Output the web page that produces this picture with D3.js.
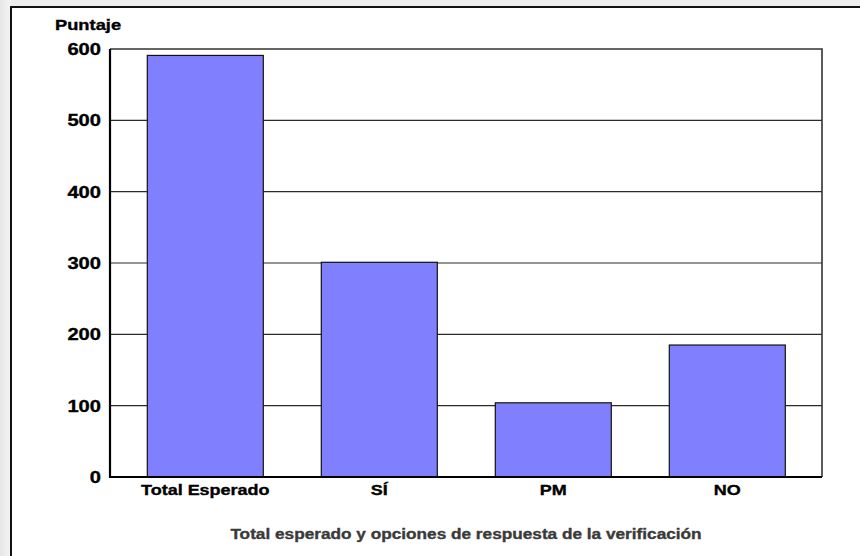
<!DOCTYPE html>
<html>
<head>
<meta charset="utf-8">
<script src="https://cdn.jsdelivr.net/npm/d3@7/dist/d3.min.js"></script>
<style>
  html, body { margin: 0; padding: 0; background: #fff; }
  svg { display: block; }
  text { font-family: "Liberation Sans", Arial, Helvetica, sans-serif; font-weight: bold; }
</style>
</head>
<body>
<script>
// Categories and scores
const categories = ["Total Esperado", "SÍ", "PM", "NO"];
const values = [591, 301, 104, 185];
const yTicks = [0, 100, 200, 300, 400, 500, 600];
const yTitle = "Puntaje";
const xTitle = "Total esperado y opciones de respuesta de la verificación";

const W = 860, H = 556;
const plot = { left: 110, right: 822, top: 49, bottom: 477 };
const stretch = 1.22; // fonts are drawn horizontally widened

const svg = d3.select("body").append("svg").attr("width", W).attr("height", H);

// light gray margin outside the frame
const grad = svg.append("defs").append("linearGradient").attr("id", "shade")
  .attr("x1", 0).attr("x2", 1).attr("y1", 0).attr("y2", 0);
grad.append("stop").attr("offset", "0%").attr("stop-color", "#e6e6e6");
grad.append("stop").attr("offset", "100%").attr("stop-color", "#f4f4f4");
svg.append("rect").attr("x", 0).attr("y", 0).attr("width", W).attr("height", 7).attr("fill", "#eeeeee");
svg.append("rect").attr("x", 0).attr("y", 0).attr("width", 11).attr("height", H).attr("fill", "url(#shade)");
svg.append("rect").attr("x", 11).attr("y", 7).attr("width", W + 10).attr("height", H + 10)
  .attr("fill", "#fff").attr("stroke", "#111").attr("stroke-width", 2);

const x = d3.scaleBand().domain(categories).range([118.3, 814.3])
  .paddingInner(1 / 3).paddingOuter(1 / 6);
const y = d3.scaleLinear().domain([0, 600]).range([plot.bottom, plot.top]);

// grid lines
svg.append("g").selectAll("line").data(yTicks.filter(d => d > 0 && d < 600)).join("line")
  .attr("x1", plot.left).attr("x2", plot.right)
  .attr("y1", d => y(d)).attr("y2", d => y(d))
  .attr("stroke", "#2a2a2a").attr("stroke-width", 1.2);

// plot frame (top and right)
svg.append("path")
  .attr("d", `M${plot.left},${plot.top}H${plot.right}V${plot.bottom}`)
  .attr("fill", "none").attr("stroke", "#333").attr("stroke-width", 1.6);

// bars
svg.append("g").selectAll("rect").data(values).join("rect")
  .attr("x", (d, i) => x(categories[i]))
  .attr("width", x.bandwidth())
  .attr("y", d => y(d))
  .attr("height", d => y(0) - y(d))
  .attr("fill", "#8080ff").attr("stroke", "#111").attr("stroke-width", 1.2);

// axes lines
svg.append("path")
  .attr("d", `M${plot.left},${plot.top}V${plot.bottom}H${plot.right}`)
  .attr("fill", "none").attr("stroke", "#000").attr("stroke-width", 2.2);

function stext(g, tx, ty, str, size, anchor, fill, sx) {
  const c = fill || "#000";
  return g.append("text")
    .attr("transform", `translate(${tx},${ty}) scale(${sx || stretch},1)`)
    .attr("text-anchor", anchor).attr("font-size", size).attr("fill", c)
    .attr("stroke", c).attr("stroke-width", 0.35)
    .text(str);
}

// y tick labels
const yl = svg.append("g");
yTicks.forEach(t => stext(yl, 101, y(t) + 6, String(t), 16.5, "end"));

// y axis title
stext(svg, 55, 30, yTitle, 15, "start");

// category labels
const xl = svg.append("g");
categories.forEach(c => stext(xl, x(c) + x.bandwidth() / 2, 495, c, 15, "middle", "#000", 1.2));

// x axis title
stext(svg, 466, 539, xTitle, 14.6, "middle", "#3a3a3a", 1.18);
</script>
</body>
</html>
